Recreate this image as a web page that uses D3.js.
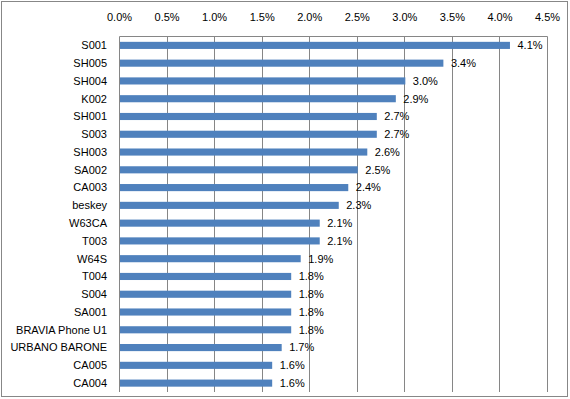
<html>
<head>
	<title>Share by model</title>
	<script src="https://d3js.org/d3.v7.min.js"></script>
	<style type="text/css">
		body { margin: 0; background: #fff; }
		text { font-family: "Liberation Sans", Arial, sans-serif; font-size: 11px; fill: #000; }
	</style>
</head>
<body>
<div id="chart"></div>

<script type="text/javascript">
var models = ["S001", "SH005", "SH004", "K002", "SH001", "S003", "SH003", "SA002", "CA003", "beskey",
	"W63CA", "T003", "W64S", "T004", "S004", "SA001", "BRAVIA Phone U1", "URBANO BARONE", "CA005", "CA004"];
var shares = [4.1, 3.4, 3.0, 2.9, 2.7, 2.7, 2.6, 2.5, 2.4, 2.3,
	2.1, 2.1, 1.9, 1.8, 1.8, 1.8, 1.8, 1.7, 1.6, 1.6];
var ticks = [0, 0.5, 1.0, 1.5, 2.0, 2.5, 3.0, 3.5, 4.0, 4.5];

var width = 570, height = 399;
var plotLeft = 119.5, plotRight = 547.5, plotTop = 36.5, plotBottom = 392;

var svg = d3.select("#chart")
	.append("svg")
	.attr("width", width)
	.attr("height", height);

// outer frame
svg.append("rect")
	.attr("x", 1.5).attr("y", 1.5)
	.attr("width", 566).attr("height", 395)
	.attr("fill", "#fff")
	.attr("stroke", "#878787")
	.attr("stroke-width", 1);

var x = d3.scaleLinear().domain([0, 4.5]).range([plotLeft, plotRight]);
var y = d3.scaleBand().domain(models).range([plotTop, plotBottom]).paddingInner(0.6).paddingOuter(0.3);

// gridlines
svg.selectAll(".grid")
	.data(ticks)
	.enter().append("line")
	.attr("class", "grid")
	.attr("x1", function(d) { return Math.floor(x(d)) + 0.5; })
	.attr("x2", function(d) { return Math.floor(x(d)) + 0.5; })
	.attr("y1", plotTop)
	.attr("y2", plotBottom)
	.attr("stroke", "#868686");

// top axis line
svg.append("line")
	.attr("x1", plotLeft).attr("x2", plotRight)
	.attr("y1", plotTop).attr("y2", plotTop)
	.attr("stroke", "#868686");

// tick labels
svg.selectAll(".tick-label")
	.data(ticks)
	.enter().append("text")
	.attr("class", "tick-label")
	.attr("x", function(d) { return x(d); })
	.attr("y", 21)
	.attr("text-anchor", "middle")
	.text(function(d) { return d.toFixed(1) + "%"; });

// bars
svg.selectAll(".bar")
	.data(shares)
	.enter().append("rect")
	.attr("class", "bar")
	.attr("x", x(0) + 0.5)
	.attr("y", function(d, i) { return y(models[i]); })
	.attr("width", function(d) { return x(d) - x(0); })
	.attr("height", y.bandwidth())
	.attr("fill", "#4f81bd");

// category labels
svg.selectAll(".cat")
	.data(models)
	.enter().append("text")
	.attr("class", "cat")
	.attr("x", 107)
	.attr("y", function(d) { return y(d) + y.bandwidth() / 2; })
	.attr("dy", "0.35em")
	.attr("text-anchor", "end")
	.text(function(d) { return d; });

// value labels
svg.selectAll(".val")
	.data(shares)
	.enter().append("text")
	.attr("class", "val")
	.attr("x", function(d) { return x(d) + 8; })
	.attr("y", function(d, i) { return y(models[i]) + y.bandwidth() / 2; })
	.attr("dy", "0.35em")
	.text(function(d) { return d.toFixed(1) + "%"; });
</script>
</body>
</html>
